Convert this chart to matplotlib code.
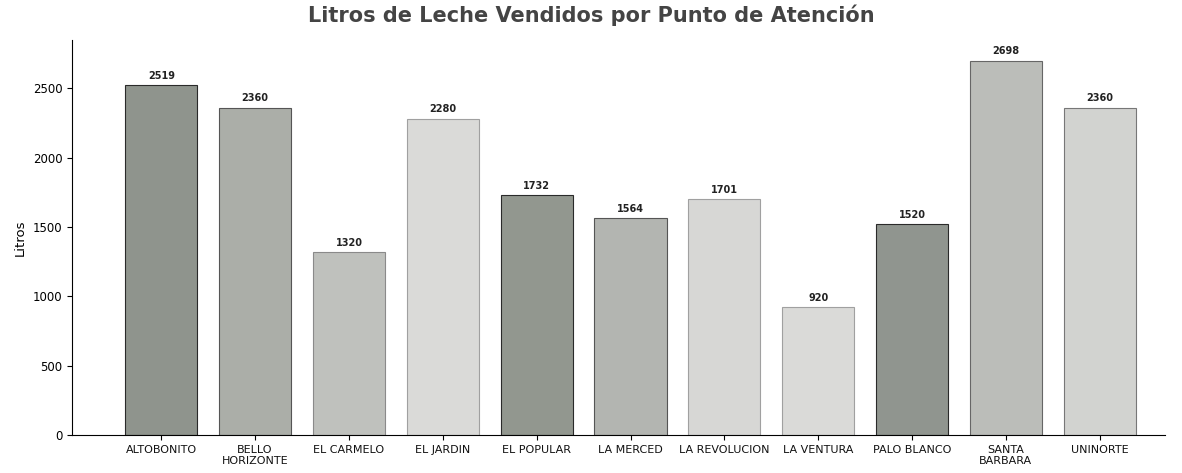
import matplotlib
matplotlib.use("Agg")
import matplotlib.pyplot as plt

# Puntos de atencion y litros vendidos
puntos = [
    "ALTOBONITO", "BELLO\nHORIZONTE", "EL CARMELO", "EL JARDIN", "EL POPULAR",
    "LA MERCED", "LA REVOLUCION", "LA VENTURA", "PALO BLANCO", "SANTA\nBARBARA",
    "UNINORTE",
]
litros = [2519, 2360, 1320, 2280, 1732, 1564, 1701, 920, 1520, 2698, 2360]
grises = [
    "#8f948d", "#abaea8", "#bfc1bd", "#dadad8", "#92978f", "#b3b5b1",
    "#d7d7d5", "#dadad8", "#90958f", "#bbbdb9", "#d2d3d0",
]
bordes = [
    "#2a2a2a", "#555555", "#8a8a8a", "#a0a0a0", "#2a2a2a", "#555555",
    "#a0a0a0", "#a0a0a0", "#2a2a2a", "#666666", "#777777",
]

fig = plt.figure(figsize=(11.82, 4.73), dpi=100)
ax = fig.add_axes([0.061, 0.080, 0.925, 0.835])

x = range(len(puntos))
bars = ax.bar(x, litros, width=0.77, color=grises, edgecolor=bordes, linewidth=0.8)

for b, v in zip(bars, litros):
    ax.text(b.get_x() + b.get_width() / 2, v + 30, str(v),
            ha="center", va="bottom", fontsize=7, fontweight="bold", color="#222222")

ax.set_xticks(list(x))
ax.set_xticklabels(puntos, fontsize=8, color="#111111")
ax.set_yticks([0, 500, 1000, 1500, 2000, 2500])
ax.tick_params(axis="y", labelsize=8.5)
ax.set_xlim(-0.95, 10.7)
ax.set_ylim(0, 2845)
ax.set_ylabel("Litros", fontsize=9.5)
ax.spines["top"].set_visible(False)
ax.spines["right"].set_visible(False)

fig.suptitle("Litros de Leche Vendidos por Punto de Atención",
             y=0.99, fontsize=15, fontweight="bold", color="#444444")

fig.savefig("out.png", dpi=100)
